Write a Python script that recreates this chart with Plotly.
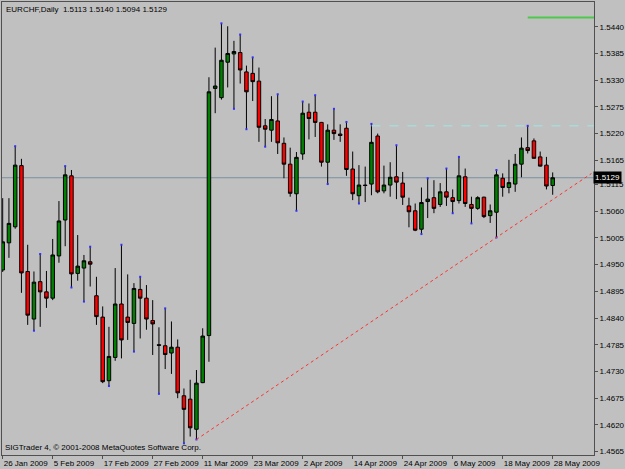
import plotly.graph_objects as go
import pandas as pd

# ---------------- data ----------------
dates = [d.strftime("%Y-%m-%d") for d in pd.bdate_range("2009-01-26", "2009-05-28")]

opens = [1.4939,1.4995,1.5028,1.5154,1.4936,1.4838,1.4915,1.4894,1.4881,1.4968,
         1.5042,1.5133,1.4932,1.4943,1.4956,1.4886,1.4842,1.4711,1.4759,1.4869,
         1.4842,1.4829,1.4899,1.4881,1.4835,1.4785,1.4783,1.4768,1.4780,1.4680,
         1.4673,1.4611,1.4707,1.4804,1.5313,1.5294,1.5367,1.5384,1.5387,1.5347,
         1.5344,1.5328,1.5236,1.5227,1.5246,1.5200,1.5157,1.5096,1.5178,1.5264,
         1.5264,1.5243,1.5161,1.5227,1.5219,1.5231,1.5147,1.5092,1.5114,1.5116,
         1.5215,1.5102,1.5114,1.5131,1.5118,1.5071,1.5061,1.5023,1.5080,1.5088,
         1.5074,1.5100,1.5088,1.5082,1.5131,1.5074,1.5066,1.5089,1.5051,1.5058,
         1.5128,1.5109,1.5116,1.5157,1.5191,1.5205,1.5172,1.5155,1.5113]

highs = [1.5087,1.5087,1.5194,1.5168,1.4991,1.4936,1.4972,1.4937,1.5003,1.5081,
         1.5153,1.5145,1.5011,1.4970,1.4987,1.4925,1.4864,1.4822,1.4943,1.4991,
         1.4930,1.4912,1.4925,1.4908,1.4877,1.4821,1.4860,1.4833,1.4796,1.4695,
         1.4713,1.4733,1.4819,1.5336,1.5397,1.5447,1.5441,1.5411,1.5424,1.5360,
         1.5377,1.5356,1.5250,1.5297,1.5301,1.5212,1.5191,1.5182,1.5286,1.5282,
         1.5299,1.5244,1.5239,1.5271,1.5239,1.5244,1.5183,1.5155,1.5152,1.5240,
         1.5220,1.5154,1.5161,1.5196,1.5141,1.5088,1.5076,1.5109,1.5128,1.5124,
         1.5118,1.5148,1.5105,1.5172,1.5148,1.5090,1.5091,1.5090,1.5074,1.5145,
         1.5138,1.5166,1.5178,1.5212,1.5236,1.5210,1.5183,1.5172,1.5140]

lows = [1.4935,1.4964,1.5024,1.4892,1.4826,1.4814,1.4822,1.4861,1.4877,1.4954,
        1.4988,1.4903,1.4917,1.4874,1.4905,1.4826,1.4706,1.4700,1.4752,1.4757,
        1.4795,1.4771,1.4798,1.4816,1.4764,1.4684,1.4735,1.4725,1.4675,1.4582,
        1.4596,1.4590,1.4706,1.4750,1.5262,1.5290,1.5315,1.5271,1.5323,1.5229,
        1.5287,1.5203,1.5193,1.5203,1.5178,1.5128,1.5090,1.5061,1.5166,1.5208,
        1.5213,1.5152,1.5116,1.5207,1.5203,1.5133,1.5083,1.5076,1.5079,1.5093,
        1.5097,1.5097,1.5090,1.5085,1.5073,1.5027,1.5019,1.5013,1.5046,1.5056,
        1.5069,1.5071,1.5056,1.5076,1.5069,1.5035,1.5063,1.5046,1.5036,1.5006,
        1.5090,1.5097,1.5100,1.5130,1.5179,1.5169,1.5152,1.5105,1.5094]

closes = [1.4997,1.5035,1.5155,1.4933,1.4846,1.4914,1.4894,1.4881,1.4970,1.5040,
          1.5135,1.4931,1.4947,1.4958,1.4951,1.4843,1.4709,1.4761,1.4869,1.4795,
          1.4831,1.4901,1.4881,1.4838,1.4828,1.4784,1.4765,1.4780,1.4686,1.4652,
          1.4614,1.4706,1.4803,1.5306,1.5318,1.5371,1.5385,1.5389,1.5351,1.5306,
          1.5327,1.5233,1.5229,1.5249,1.5201,1.5157,1.5097,1.5171,1.5262,1.5251,
          1.5243,1.5161,1.5227,1.5220,1.5216,1.5146,1.5096,1.5114,1.5113,1.5202,
          1.5100,1.5114,1.5130,1.5120,1.5089,1.5059,1.5021,1.5078,1.5085,1.5066,
          1.5100,1.5089,1.5080,1.5133,1.5076,1.5066,1.5088,1.5049,1.5061,1.5135,
          1.5109,1.5119,1.5157,1.5190,1.5185,1.5169,1.5153,1.5112,1.5129]

# bars carrying a fractal dot (blue) at their high / low
fractal_up_bars = [2, 6, 10, 14, 19, 22, 26, 35, 38, 40, 44, 48, 50, 53, 55, 59,
                   63, 68, 71, 73, 79, 84]
fractal_down_bars = [5, 11, 13, 17, 21, 25, 29, 31, 37, 39, 42, 47, 52, 57, 67,
                     72, 75, 79]

tick_dates = ["2009-01-26", "2009-02-05", "2009-02-17", "2009-02-27", "2009-03-11",
              "2009-03-23", "2009-04-02", "2009-04-14", "2009-04-24", "2009-05-06",
              "2009-05-18", "2009-05-28"]
tick_labels = ["26 Jan 2009", "5 Feb 2009", "17 Feb 2009", "27 Feb 2009", "11 Mar 2009",
               "23 Mar 2009", "2 Apr 2009", "14 Apr 2009", "24 Apr 2009", "6 May 2009",
               "18 May 2009", "28 May 2009"]

price_ticks = [1.5440, 1.5385, 1.5330, 1.5275, 1.5220, 1.5165, 1.5115, 1.5060, 1.5005,
               1.4950, 1.4895, 1.4840, 1.4785, 1.4730, 1.4675, 1.4620, 1.4565]
price_labels = ["%.4f" % v for v in price_ticks]

resistance_level = 1.5236   # cyan dashed line
green_level = 1.5459        # green line top-right
trend_from_bar = 31
trend_to_bar = 79

symbol = "EURCHF,Daily"
copyright_text = "SIGTrader 4, © 2001-2008 MetaQuotes Software Corp."

# ---------------- figure ----------------
x = list(range(len(dates)))
FONT = "Liberation Sans, Arial, sans-serif"
BG = "#C0C0C0"

fig = go.Figure()
fig.add_trace(go.Candlestick(
    x=x, open=opens, high=highs, low=lows, close=closes,
    increasing=dict(line=dict(color="black", width=1), fillcolor="#008000"),
    decreasing=dict(line=dict(color="black", width=1), fillcolor="#FF0000"),
    whiskerwidth=0, showlegend=False, hoverinfo="skip",
))

# fractal dots
fig.add_trace(go.Scatter(
    x=fractal_up_bars + fractal_down_bars,
    y=[highs[i] for i in fractal_up_bars] + [lows[i] for i in fractal_down_bars],
    mode="markers", marker=dict(symbol="square", size=2, color="#3030FF", line=dict(width=0)),
    showlegend=False, hoverinfo="skip",
))

x_left, x_right = -0.11, 94.61

# bid line
fig.add_shape(type="line", xref="paper", x0=0, x1=1, y0=closes[-1], y1=closes[-1],
              line=dict(color="#7890A0", width=1), layer="below")

# trend line through two lows, extended
t0, t1 = trend_from_bar, trend_to_bar
slope = (lows[t1] - lows[t0]) / (t1 - t0)
x_end = 94.2
fig.add_shape(type="line", x0=t0, y0=lows[t0], x1=x_end, y1=lows[t0] + slope * (x_end - t0),
              line=dict(color="#FF3030", width=1, dash="dot"))

# resistance dashed line
fig.add_shape(type="line", x0=59, x1=x_right, y0=resistance_level, y1=resistance_level,
              line=dict(color="#A0E6E6", width=1, dash="dash"))

# green level line
fig.add_shape(type="line", x0=84, x1=x_right, y0=green_level, y1=green_level,
              line=dict(color="#4CC94C", width=2))

# title text
fig.add_annotation(xref="paper", yref="paper", x=0.004, y=1, xanchor="left", yanchor="top",
                   yshift=-1, showarrow=False,
                   text="%s&nbsp;&nbsp;%.4f&nbsp;%.4f&nbsp;%.4f&nbsp;%.4f" % (symbol, opens[-1], highs[-1], lows[-1], closes[-1]),
                   font=dict(family=FONT, size=8, color="black"))
# copyright
fig.add_annotation(xref="paper", yref="paper", x=0.002, y=0, xanchor="left", yanchor="bottom",
                   yshift=1, showarrow=False, text=copyright_text,
                   font=dict(family=FONT, size=8, color="black"))
# bid price label
fig.add_annotation(xref="paper", yref="y", x=1, y=closes[-1], xanchor="left", yanchor="middle",
                   xshift=-1, showarrow=False, text="%.4f" % closes[-1], bgcolor="black",
                   borderpad=1, font=dict(family=FONT, size=8, color="white"))

tickvals_x = [dates.index(d) for d in tick_dates]

fig.update_layout(
    width=625, height=469,
    margin=dict(l=2, r=31, t=2, b=14, pad=0),
    paper_bgcolor=BG, plot_bgcolor=BG,
    font=dict(family=FONT, size=8, color="black"),
    xaxis=dict(range=[x_left, x_right], rangeslider=dict(visible=False),
               tickmode="array", tickvals=tickvals_x, ticktext=tick_labels,
               ticklabelposition="outside right", tickangle=0, automargin=False,
               showgrid=False, zeroline=False, showline=True, mirror=True,
               linecolor="#505050", linewidth=1,
               ticks="outside", ticklen=3, tickcolor="#505050",
               tickfont=dict(family=FONT, size=8, color="black")),
    yaxis=dict(range=[1.4558, 1.5491], side="right", automargin=False,
               tickmode="array", tickvals=price_ticks, ticktext=price_labels,
               showgrid=False, zeroline=False, showline=True, mirror=True,
               linecolor="#505050", linewidth=1,
               ticks="outside", ticklen=3, tickcolor="#505050",
               tickfont=dict(family=FONT, size=8, color="black")),
    boxgap=0.2,
)

fig.write_html("out.html")
